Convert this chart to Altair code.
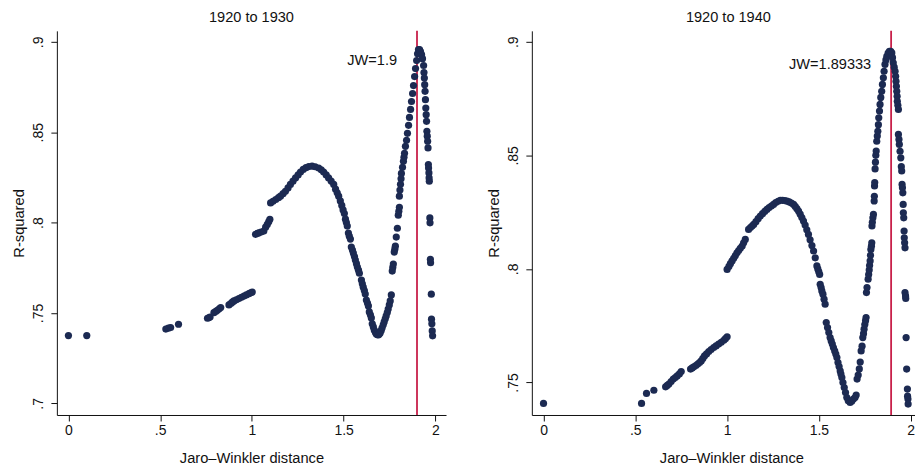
import altair as alt
import pandas as pd

# ---------------- data ----------------
titles = ["1920 to 1930", "1920 to 1940"]
jw_values = [1.9, 1.89333]
jw_labels = ["JW=1.9", "JW=1.89333"]
jw_label_y = [0.8895, 0.8897]
x_ticks = [0, 0.5, 1, 1.5, 2]
y_ticks_left = [0.7, 0.75, 0.8, 0.85, 0.9]
y_ticks_right = [0.75, 0.8, 0.85, 0.9]

x_left = [
    0.000, 0.100, 0.531, 0.545, 0.557, 0.600, 0.758, 0.765, 0.772, 0.793,
    0.803, 0.812, 0.822, 0.830, 0.875, 0.885, 0.893, 0.902, 0.915, 0.929,
    0.943, 0.957, 0.970, 0.984, 0.993, 1.002, 1.020, 1.030, 1.038, 1.050,
    1.065, 1.075, 1.084, 1.092, 1.098, 1.102, 1.115, 1.130, 1.145, 1.156,
    1.170, 1.183, 1.197, 1.210, 1.224, 1.238, 1.252, 1.265, 1.280, 1.295,
    1.310, 1.328, 1.345, 1.364, 1.378, 1.391, 1.405, 1.418, 1.432, 1.446,
    1.456, 1.465, 1.473, 1.482, 1.490, 1.497, 1.504, 1.510, 1.515, 1.520,
    1.526, 1.531, 1.537, 1.542, 1.548, 1.553, 1.559, 1.564, 1.570, 1.575,
    1.581, 1.586, 1.597, 1.602, 1.607, 1.613, 1.618, 1.624, 1.630, 1.635,
    1.640, 1.646, 1.651, 1.656, 1.662, 1.667, 1.673, 1.678, 1.684, 1.689,
    1.694, 1.699, 1.705, 1.710, 1.716, 1.721, 1.727, 1.732, 1.738, 1.743,
    1.749, 1.754, 1.760, 1.765, 1.768, 1.771, 1.776, 1.779, 1.782, 1.787,
    1.793, 1.798, 1.801, 1.804, 1.804, 1.807, 1.810, 1.813, 1.815, 1.821,
    1.826, 1.829, 1.832, 1.837, 1.843, 1.848, 1.854, 1.859, 1.865, 1.870,
    1.876, 1.881, 1.887, 1.892, 1.898, 1.903, 1.908, 1.914, 1.919, 1.925,
    1.930, 1.936, 1.938, 1.940, 1.942, 1.944, 1.946, 1.948, 1.950, 1.952,
    1.954, 1.956, 1.958, 1.960, 1.962, 1.963, 1.965, 1.966, 1.967, 1.970,
    1.971, 1.973, 1.974, 1.978, 1.979, 1.981, 1.983, 1.985,
]
y_left = [
    0.7375, 0.7375, 0.7411, 0.7416, 0.7420, 0.7438, 0.7471, 0.7474, 0.7478, 0.7502,
    0.7509, 0.7515, 0.7523, 0.7530, 0.7545, 0.7552, 0.7560, 0.7567, 0.7573, 0.7580,
    0.7587, 0.7594, 0.7600, 0.7607, 0.7612, 0.7616, 0.7935, 0.7940, 0.7944, 0.7948,
    0.7953, 0.7975, 0.7990, 0.8005, 0.8018, 0.8109, 0.8118, 0.8128, 0.8138, 0.8146,
    0.8160, 0.8173, 0.8192, 0.8211, 0.8229, 0.8247, 0.8264, 0.8280, 0.8294, 0.8304,
    0.8310, 0.8312, 0.8309, 0.8302, 0.8292, 0.8280, 0.8264, 0.8247, 0.8230, 0.8211,
    0.8185, 0.8165, 0.8146, 0.8120, 0.8095, 0.8070, 0.8050, 0.8019, 0.8000, 0.7981,
    0.7942, 0.7925, 0.7909, 0.7865, 0.7848, 0.7832, 0.7812, 0.7793, 0.7773, 0.7754,
    0.7737, 0.7720, 0.7682, 0.7662, 0.7643, 0.7624, 0.7605, 0.7572, 0.7555, 0.7539,
    0.7506, 0.7490, 0.7473, 0.7440, 0.7423, 0.7406, 0.7394, 0.7384, 0.7380, 0.7379,
    0.7383, 0.7390, 0.7404, 0.7418, 0.7435, 0.7451, 0.7468, 0.7484, 0.7503, 0.7522,
    0.7545, 0.7567, 0.7600, 0.7732, 0.7752, 0.7771, 0.7837, 0.7853, 0.7870, 0.7920,
    0.7969, 0.8041, 0.8063, 0.8085, 0.8146, 0.8180, 0.8212, 0.8242, 0.8272, 0.8306,
    0.8339, 0.8361, 0.8383, 0.8422, 0.8455, 0.8494, 0.8538, 0.8582, 0.8626, 0.8670,
    0.8714, 0.8758, 0.8808, 0.8852, 0.8896, 0.8934, 0.8957, 0.8957, 0.8946, 0.8929,
    0.8907, 0.8869, 0.8830, 0.8800, 0.8763, 0.8726, 0.8680, 0.8634, 0.8597, 0.8560,
    0.8505, 0.8478, 0.8450, 0.8413, 0.8321, 0.8302, 0.8275, 0.8247, 0.8229, 0.8026,
    0.7999, 0.7797, 0.7778, 0.7604, 0.7466, 0.7440, 0.7401, 0.7374,
]

x_right = [
    0.000, 0.534, 0.561, 0.601, 0.665, 0.674, 0.683, 0.695, 0.707, 0.718,
    0.728, 0.740, 0.750, 0.801, 0.810, 0.819, 0.830, 0.840, 0.850, 0.859,
    0.868, 0.877, 0.888, 0.900, 0.913, 0.927, 0.940, 0.954, 0.968, 0.982,
    0.991, 1.000, 1.000, 1.010, 1.018, 1.027, 1.036, 1.045, 1.054, 1.063,
    1.072, 1.082, 1.090, 1.099, 1.117, 1.127, 1.136, 1.145, 1.157, 1.169,
    1.181, 1.193, 1.205, 1.217, 1.229, 1.241, 1.253, 1.265, 1.278, 1.290,
    1.302, 1.314, 1.326, 1.338, 1.350, 1.362, 1.371, 1.380, 1.389, 1.398,
    1.407, 1.416, 1.425, 1.434, 1.443, 1.452, 1.462, 1.471, 1.480, 1.489,
    1.494, 1.499, 1.504, 1.507, 1.512, 1.516, 1.522, 1.528, 1.534, 1.540,
    1.547, 1.554, 1.561, 1.567, 1.573, 1.579, 1.586, 1.592, 1.598, 1.604,
    1.610, 1.616, 1.620, 1.625, 1.631, 1.638, 1.645, 1.652, 1.660, 1.670,
    1.679, 1.688, 1.697, 1.703, 1.708, 1.714, 1.720, 1.725, 1.730, 1.735,
    1.739, 1.743, 1.746, 1.750, 1.754, 1.757, 1.759, 1.762, 1.768, 1.771,
    1.774, 1.776, 1.779, 1.781, 1.783, 1.786, 1.788, 1.789, 1.791, 1.794,
    1.797, 1.801, 1.802, 1.803, 1.804, 1.806, 1.808, 1.810, 1.812, 1.815,
    1.818, 1.821, 1.824, 1.826, 1.830, 1.833, 1.837, 1.842, 1.846, 1.851,
    1.855, 1.860, 1.865, 1.870, 1.877, 1.884, 1.891, 1.897, 1.901, 1.905,
    1.910, 1.915, 1.918, 1.920, 1.922, 1.924, 1.926, 1.927, 1.930, 1.933,
    1.933, 1.936, 1.938, 1.942, 1.946, 1.949, 1.951, 1.953, 1.955, 1.957,
    1.959, 1.960, 1.962, 1.964, 1.965, 1.967, 1.969, 1.969, 1.972, 1.973,
    1.975, 1.978, 1.982, 1.983, 1.985, 1.986,
]
y_right = [
    0.7408, 0.7408, 0.7452, 0.7466, 0.7481, 0.7487, 0.7493, 0.7504, 0.7515, 0.7522,
    0.7529, 0.7538, 0.7548, 0.7559, 0.7564, 0.7569, 0.7575, 0.7581, 0.7588, 0.7595,
    0.7606, 0.7617, 0.7626, 0.7636, 0.7645, 0.7654, 0.7661, 0.7669, 0.7677, 0.7686,
    0.7693, 0.7701, 0.7998, 0.8011, 0.8023, 0.8035, 0.8047, 0.8059, 0.8071, 0.8081,
    0.8091, 0.8101, 0.8115, 0.8130, 0.8174, 0.8182, 0.8189, 0.8196, 0.8208, 0.8221,
    0.8233, 0.8243, 0.8253, 0.8262, 0.8270, 0.8277, 0.8284, 0.8292, 0.8298, 0.8302,
    0.8302, 0.8301, 0.8299, 0.8295, 0.8290, 0.8284, 0.8275, 0.8265, 0.8255, 0.8241,
    0.8226, 0.8211, 0.8193, 0.8172, 0.8152, 0.8128, 0.8103, 0.8079, 0.8049, 0.8013,
    0.8000, 0.7988, 0.7976, 0.7932, 0.7918, 0.7903, 0.7889, 0.7867, 0.7845, 0.7764,
    0.7742, 0.7720, 0.7698, 0.7683, 0.7669, 0.7654, 0.7639, 0.7625, 0.7610, 0.7588,
    0.7570, 0.7551, 0.7537, 0.7522, 0.7500, 0.7478, 0.7456, 0.7434, 0.7420, 0.7412,
    0.7418, 0.7427, 0.7434, 0.7445, 0.7515, 0.7533, 0.7560, 0.7590, 0.7639, 0.7660,
    0.7698, 0.7715, 0.7735, 0.7755, 0.7772, 0.7786, 0.7896, 0.7918, 0.7955, 0.7975,
    0.7995, 0.8015, 0.8035, 0.8060, 0.8086, 0.8100, 0.8115, 0.8189, 0.8205, 0.8225,
    0.8240, 0.8299, 0.8320, 0.8365, 0.8380, 0.8440, 0.8470, 0.8500, 0.8519, 0.8562,
    0.8585, 0.8606, 0.8635, 0.8665, 0.8695, 0.8724, 0.8755, 0.8782, 0.8812, 0.8841,
    0.8870, 0.8900, 0.8920, 0.8936, 0.8950, 0.8958, 0.8958, 0.8951, 0.8930, 0.8907,
    0.8888, 0.8870, 0.8848, 0.8826, 0.8804, 0.8782, 0.8760, 0.8738, 0.8720, 0.8702,
    0.8592, 0.8570, 0.8548, 0.8518, 0.8489, 0.8450, 0.8431, 0.8372, 0.8357, 0.8335,
    0.8284, 0.8247, 0.8225, 0.8167, 0.8137, 0.8115, 0.8093, 0.7896, 0.7881, 0.7870,
    0.7698, 0.7559, 0.7471, 0.7440, 0.7427, 0.7405,
]

# ---------------- styling ----------------
FONT = "Liberation Sans"
NAVY = "#1c2a52"
RED = "#c8204a"
PLOT_H = 385

x_label_expr = ("datum.value > 0 && datum.value < 1 ? "
                "substring(format(datum.value, '~g'), 1) : format(datum.value, '~g')")
y_label_expr = "substring(format(datum.value, '~g'), 1)"


def panel(xs, ys, title, jw, jw_label, label_y, ydom, yticks, xdom, width, shift):
    xscale = alt.Scale(domain=xdom, nice=False, zero=False)
    yscale = alt.Scale(domain=ydom, nice=False, zero=False)
    xaxis = alt.Axis(values=x_ticks, title="Jaro\u2013Winkler distance",
                     labelExpr=x_label_expr, labelBaseline="alphabetic",
                     labelPadding=13.7, titleBaseline="alphabetic",
                     titleY=47.2, titleX=195.0 + shift)
    yaxis = alt.Axis(values=yticks, title="R-squared",
                     labelExpr=y_label_expr, labelAngle=270, labelAlign="center",
                     labelBaseline="alphabetic", labelPadding=8,
                     titleAngle=270, titleAlign="center", titleBaseline="middle",
                     titleX=-37.4, titleY=PLOT_H / 2)
    X = alt.X("x:Q", scale=xscale, axis=xaxis)
    Y = alt.Y("y:Q", scale=yscale, axis=yaxis)

    pts = alt.Chart(pd.DataFrame({"x": xs, "y": ys})).mark_circle(
        size=52, color=NAVY, opacity=1).encode(x=X, y=Y)
    rule = alt.Chart(pd.DataFrame({"x": [jw]})).mark_rule(
        color=RED, strokeWidth=1.8).encode(x=X)
    txt = alt.Chart(pd.DataFrame({"x": [jw], "y": [label_y], "t": [jw_label]})).mark_text(
        align="right", baseline="middle", dx=-20, fontSize=14.6, font=FONT, color="#111"
    ).encode(x=X, y=Y, text="t:N")
    return alt.layer(rule, pts, txt).properties(
        width=width, height=PLOT_H,
        title=alt.TitleParams(title, fontSize=14.6, font=FONT, fontWeight="normal",
                              baseline="alphabetic", offset=8.6, color="#111",
                              dx=shift, dy=15.4),
    )


left = panel(x_left, y_left, titles[0], jw_values[0], jw_labels[0], jw_label_y[0],
             [0.6936, 0.90607], y_ticks_left, [-0.063, 2.0582], 390, 0)
right = panel(x_right, y_right, titles[1], jw_values[1], jw_labels[1], jw_label_y[1],
              [0.7357, 0.9048], y_ticks_right, [-0.0636, 2.0234], 384, 5)

chart = alt.hconcat(left, right, spacing=40).properties(
    padding={"left": 11, "top": 9.4, "right": 0, "bottom": 2}
).configure_view(stroke=None).configure_axis(
    grid=False, domainColor="#111", domainWidth=1, tickColor="#111", tickWidth=1,
    tickSize=6, labelFont=FONT, labelFontSize=14, labelColor="#111",
    titleFont=FONT, titleFontSize=14.7, titleFontWeight="normal", titleColor="#111",
)

chart.save("out.html", embed_options={"renderer": "svg", "actions": False})
